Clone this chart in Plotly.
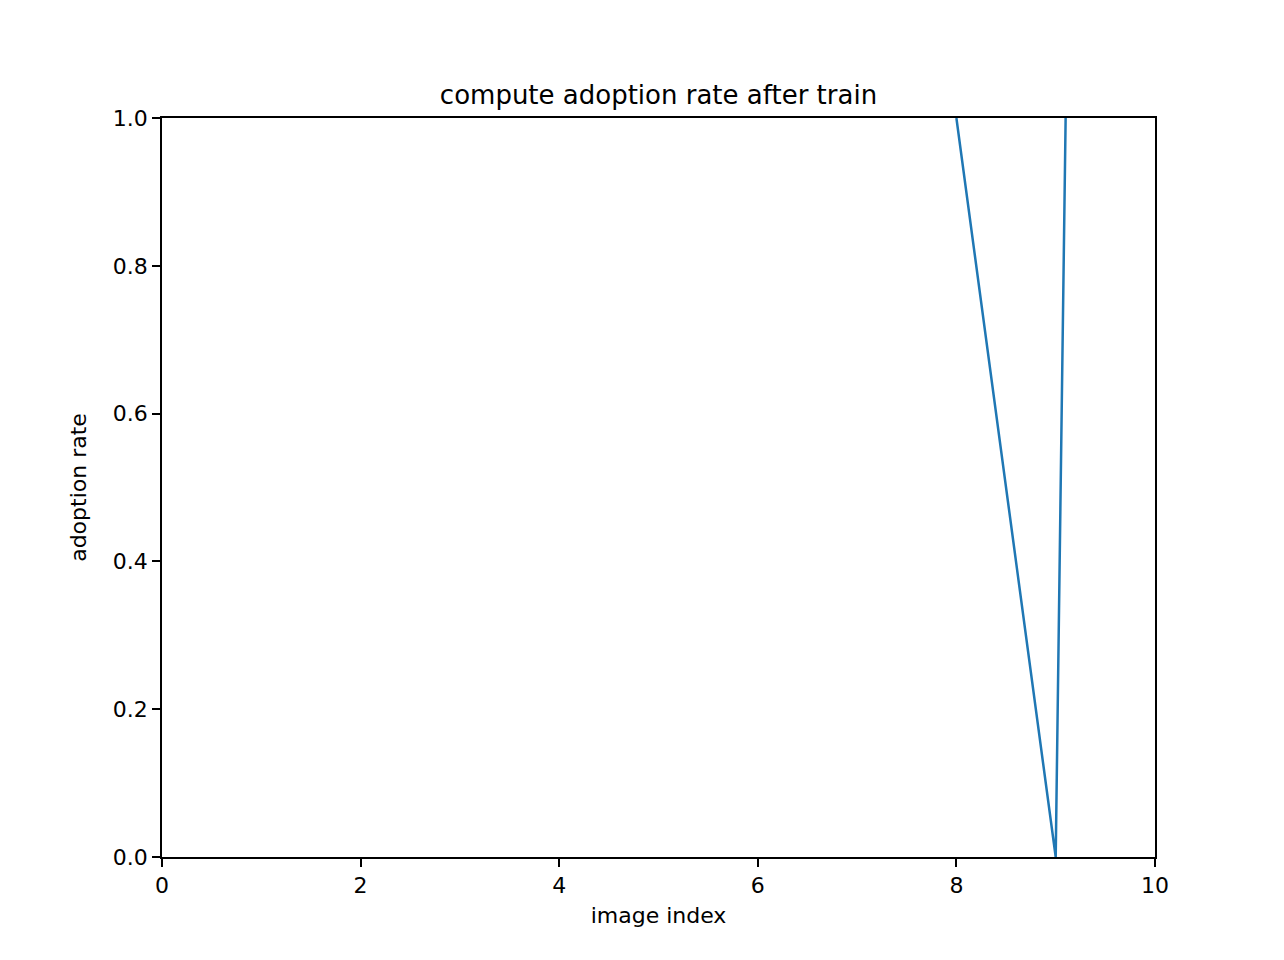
import plotly.graph_objects as go

# image index vs adoption rate (values outside [0, 1] are clipped by the axis)
image_index = [8, 9, 10]
adoption_rate = [1.0, 0.0, 10.0]

x_ticks = [0, 2, 4, 6, 8, 10]
y_ticks = [0.0, 0.2, 0.4, 0.6, 0.8, 1.0]

fig = go.Figure(
    go.Scatter(
        x=image_index,
        y=adoption_rate,
        mode="lines",
        line=dict(color="#1f77b4", width=2.5),
        cliponaxis=True,
    )
)

axis_style = dict(
    showline=True, linecolor="black", linewidth=1.5, mirror=True,
    ticks="outside", ticklen=8, tickwidth=1.5, tickcolor="black",
    showgrid=False, zeroline=False,
    tickfont=dict(size=22, color="black"),
)

fig.update_layout(
    width=1284, height=960,
    margin=dict(l=154, r=137, t=110, b=111),
    paper_bgcolor="white", plot_bgcolor="white",
    font=dict(family="DejaVu Sans", color="black"),
    showlegend=False,
    title=dict(text="compute adoption rate after train", x=0.5, xref="paper",
               y=1, yref="paper", yanchor="bottom", pad=dict(b=14),
               font=dict(size=26)),
    xaxis=dict(axis_style, range=[0, 10], tickvals=x_ticks,
               ticktext=[str(t) for t in x_ticks],
               title=dict(text="image index", font=dict(size=22), standoff=10)),
    yaxis=dict(axis_style, range=[0, 1], tickvals=y_ticks,
               ticktext=[f"{t:.1f}" for t in y_ticks],
               title=dict(text="adoption rate", font=dict(size=22), standoff=20)),
)

fig.write_html("out.html")
